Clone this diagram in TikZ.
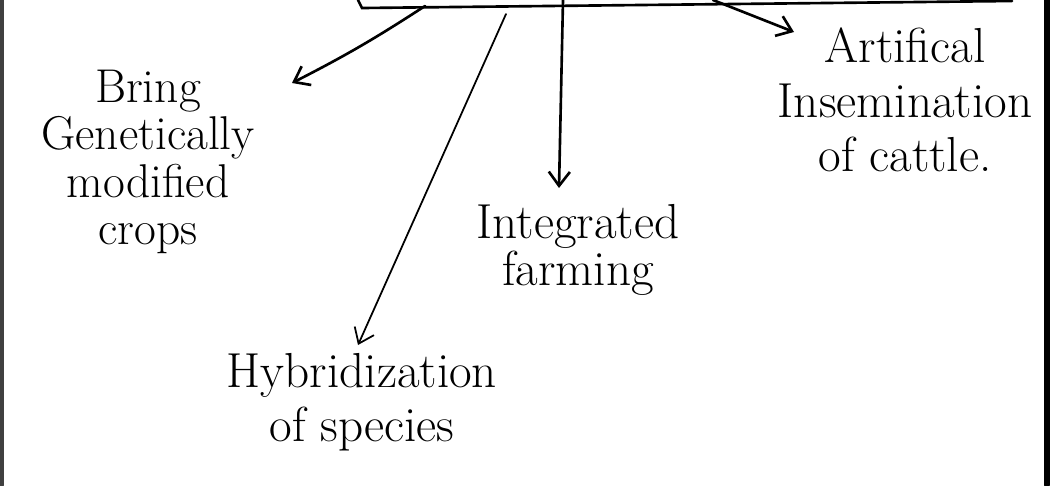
\documentclass[tikz,border=0pt]{standalone}
\usepackage{tikz}
\usetikzlibrary{arrows.meta}

\begin{document}
\begin{tikzpicture}[x=0.02cm, y=-0.02cm, line width=1.5pt, line cap=round,
        >={Straight Barb[length=8pt,width=12pt]}]
        \tikzstyle{lbl}  = [align=center, inner sep=0pt, font=\fontsize{28}{25}\selectfont]
        \tikzstyle{lblw} = [lbl, font=\fontsize{28}{31}\selectfont]
        \tikzstyle{lbln} = [lbl, font=\fontsize{27}{27}\selectfont]

        \useasboundingbox (0,0) rectangle (1050,485);

        % page edges and the box above
        \draw[line width=3pt, black!75] (1.5,0) -- (1.5,485);
        \draw[line width=3pt] (1047,0) -- (1047,485);
        \draw (358,0) -- (362,8) -- (1012,1);

        \coordinate (r1) at (425,6);
        \coordinate (r2) at (506,14);
        \coordinate (r3) at (563,0);
        \coordinate (r4) at (713,0);

        \node(gm)   [lbln] at (148,162) {Bring\\Genetically\\modified\\crops};
        \node(ai)   [lblw] at (905,100) {Artifical\\Insemination\\of cattle.};
        \node(intf) [lbl]  at (578,250) {Integrated\\farming};
        \node(hyb)  [lblw] at (362,402) {Hybridization\\of species};

        \coordinate (e1) at (292,83);
        \coordinate (e2) at (358,345);
        \coordinate (e3) at (559,188);
        \coordinate (e4) at (794,32);

        \draw[->] (r1) to[bend left=3] (e1);
        \draw[->, line width=1pt] (r2) -- (e2);
        \draw[->] (r3) -- (e3);
        \draw[->] (r4) -- (e4);
      \end{tikzpicture}
\end{document}
